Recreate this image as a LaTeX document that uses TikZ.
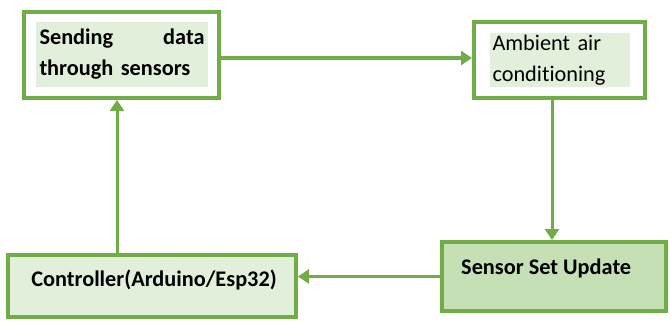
\documentclass[tikz,border=0pt]{standalone}
\usepackage{fontspec}
\setmainfont{Carlito}[Ligatures=NoCommon]
\usetikzlibrary{arrows.meta}
\definecolor{grn}{HTML}{70AD47}
\definecolor{lgrn}{HTML}{E2EFDA}
\definecolor{mgrn}{HTML}{C5E0B4}

\begin{document}
\begin{tikzpicture}[
    x=1pt, y=-1pt,
    box/.style={draw=grn, line width=4pt, fill=white, inner sep=0pt},
    txt/.style={fill=lgrn, inner sep=0pt, font=\fontsize{22.3}{31}\selectfont},
    flow/.style={draw=grn, line width=3pt, -{Triangle[length=11pt,width=14pt]}},
  ]
  \useasboundingbox (0,0) rectangle (671,321);
  % the four blocks
  \node[box, minimum width=195pt, minimum height=86pt] (send) at (121.5,55) {};
  \node[txt, minimum width=172pt, minimum height=65pt, text width=165pt] (sendt) at (122,54.5)
    {\bfseries Sending\hfill data\\through sensors};
  \node[box, minimum width=171pt, minimum height=76pt] (amb) at (559.5,60) {};
  \node[txt, minimum width=140pt, minimum height=54pt, text width=135pt, align=left] (ambt) at (560,60)
    {Ambient air\\conditioning};
  \node[box, fill=mgrn, minimum width=224pt, minimum height=69pt] (sens) at (554,276.5) {};
  \node[anchor=west, inner sep=0pt, font=\fontsize{22.3}{31}\selectfont\bfseries] (senst) at (461,268)
    {Sensor Set Update};
  \node[box, fill=lgrn, minimum width=288pt, minimum height=62pt] (ctrl) at (152,286) {};
  \node[inner sep=0pt, font=\fontsize{22.3}{31}\selectfont\bfseries] (ctrlt) at (154,280)
    {Controller(Arduino/Esp32)};
  % connections
  \draw[flow] (send.east |- 0,58) -- (amb.west |- 0,58);
  \draw[flow] (amb.south -| 552,0) -- (sens.north -| 552,0);
  \draw[flow] (sens.west) -- (ctrl.east |- sens.west);
  \draw[flow] (ctrl.north -| 117,0) -- (send.south -| 117,0);
\end{tikzpicture}
\end{document}
